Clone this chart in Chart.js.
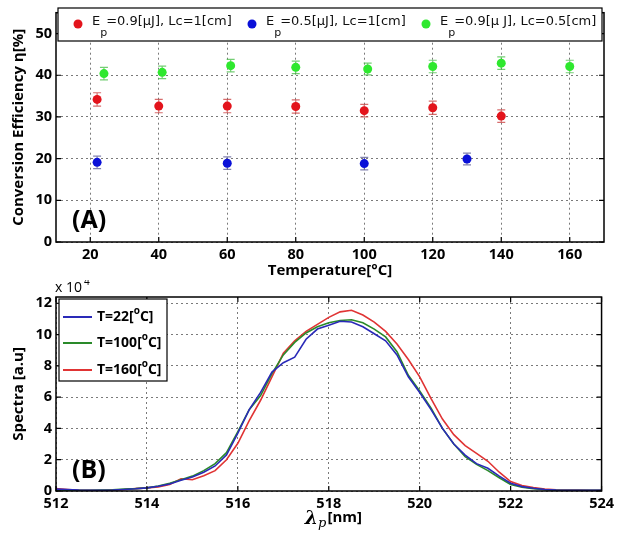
<!DOCTYPE html>
<html>
<head>
<meta charset="utf-8">
<script src="https://cdn.jsdelivr.net/npm/chart.js@4.4.0/dist/chart.umd.min.js"></script>
<style>
  html, body { margin: 0; padding: 0; background: #fff; }
  #wrap { position: relative; width: 618px; height: 537px; }
  canvas { position: absolute; left: 0; }
  #effChart { top: 0; }
  #specChart { top: 280px; }
</style>
</head>
<body>
<div id="wrap">
  <canvas id="effChart" width="618" height="280"></canvas>
  <canvas id="specChart" width="618" height="257"></canvas>
</div>
<script>
// ---- (A) conversion efficiency vs temperature ----
const tempRed = [22, 40, 60, 80, 100, 120, 140];
const effRed = [34.2, 32.6, 32.6, 32.5, 31.5, 32.2, 30.2];
const errRed = [1.6, 1.6, 1.6, 1.6, 1.5, 1.6, 1.5];

const tempBlue = [22, 60, 100, 130];
const effBlue = [19.1, 18.9, 18.8, 19.9];
const errBlue = [1.5, 1.5, 1.5, 1.4];

const tempGreen = [24, 41, 61, 80, 101, 120, 140, 160];
const effGreen = [40.4, 40.7, 42.3, 41.9, 41.5, 42.1, 42.9, 42.1];
const errGreen = [1.5, 1.5, 1.5, 1.5, 1.4, 1.5, 1.5, 1.5];

const tempTicks = [20, 40, 60, 80, 100, 120, 140, 160];
const effTicks = [0, 10, 20, 30, 40, 50];

// ---- (B) spectra (values in units of 10^4) ----
const wavelength = [512, 512.25, 512.5, 512.75, 513, 513.25, 513.5, 513.75,
  514, 514.25, 514.5, 514.75, 515, 515.25, 515.5, 515.75,
  516, 516.25, 516.5, 516.75, 517, 517.25, 517.5, 517.75,
  518, 518.25, 518.5, 518.75, 519, 519.25, 519.5, 519.75,
  520, 520.25, 520.5, 520.75, 521, 521.25, 521.5, 521.75,
  522, 522.25, 522.5, 522.75, 523, 523.25, 523.5, 523.75, 524];
const spec22 = [0.12, 0.1, 0.06, 0.05, 0.04, 0.06, 0.1, 0.14,
  0.2, 0.3, 0.45, 0.68, 0.9, 1.2, 1.6, 2.3,
  3.7, 5.2, 6.3, 7.6, 8.2, 8.55, 9.7, 10.35,
  10.6, 10.85, 10.8, 10.5, 10.05, 9.6, 8.7, 7.3,
  6.3, 5.2, 4.0, 3.0, 2.3, 1.75, 1.45, 0.95,
  0.5, 0.28, 0.18, 0.1, 0.06, 0.05, 0.05, 0.04, 0.04];
const spec100 = [0.06, 0.05, 0.04, 0.05, 0.06, 0.08, 0.12, 0.15,
  0.2, 0.32, 0.5, 0.72, 0.95, 1.3, 1.75, 2.45,
  3.8, 5.2, 6.1, 7.5, 8.7, 9.5, 10.1, 10.5,
  10.75, 10.9, 10.95, 10.75, 10.35, 9.85, 8.9, 7.4,
  6.4, 5.3, 4.0, 3.0, 2.2, 1.7, 1.3, 0.85,
  0.42, 0.25, 0.15, 0.08, 0.05, 0.05, 0.04, 0.04, 0.04];
const spec160 = [0.15, 0.1, 0.05, 0.05, 0.05, 0.07, 0.1, 0.15,
  0.2, 0.26, 0.42, 0.78, 0.72, 0.98, 1.3, 2.0,
  3.05, 4.5, 5.8, 7.3, 8.8, 9.6, 10.2, 10.65,
  11.1, 11.45, 11.55, 11.25, 10.8, 10.2, 9.4, 8.4,
  7.3, 5.9, 4.6, 3.6, 2.9, 2.4, 1.9, 1.2,
  0.6, 0.35, 0.22, 0.12, 0.08, 0.06, 0.06, 0.05, 0.05];
const wlTicks = [512, 514, 516, 518, 520, 522, 524];
const specTicks = [0, 2, 4, 6, 8, 10, 12];

Chart.defaults.font.family = "'Open Sans', sans-serif";
Chart.defaults.color = '#000';

const FONT = "'Open Sans', sans-serif";
const LEGEND_FONT = "'DejaVu Sans', sans-serif";
const toPoints = (xs, ys) => xs.map((x, i) => ({ x, y: ys[i] }));
const setTicks = (values) => (scale) => { scale.ticks = values.map((v) => ({ value: v })); };

// black box round the plot with small inward tick marks (matlab style)
const framePlugin = {
  id: 'frame',
  afterDatasetsDraw(chart) {
    const { ctx, chartArea: a, scales: { x, y } } = chart;
    ctx.save();
    ctx.strokeStyle = '#000';
    ctx.lineWidth = 1.5;
    ctx.strokeRect(a.left, a.top, a.right - a.left, a.bottom - a.top);
    ctx.lineWidth = 1.2;
    ctx.beginPath();
    x.ticks.forEach((t) => {
      const px = x.getPixelForValue(t.value);
      ctx.moveTo(px, a.bottom); ctx.lineTo(px, a.bottom - 5);
      ctx.moveTo(px, a.top); ctx.lineTo(px, a.top + 5);
    });
    y.ticks.forEach((t) => {
      const py = y.getPixelForValue(t.value);
      ctx.moveTo(a.left, py); ctx.lineTo(a.left + 5, py);
      ctx.moveTo(a.right, py); ctx.lineTo(a.right - 5, py);
    });
    ctx.stroke();
    ctx.restore();
  }
};

const errorBars = {
  id: 'errorBars',
  beforeDatasetsDraw(chart) {
    const { ctx, scales: { x, y } } = chart;
    chart.data.datasets.forEach((ds) => {
      if (!ds.errors) return;
      ctx.save();
      ctx.strokeStyle = ds.errorColor;
      ctx.lineWidth = 1.2;
      ds.data.forEach((pt, i) => {
        const px = x.getPixelForValue(pt.x);
        const top = y.getPixelForValue(pt.y + ds.errors[i]);
        const bot = y.getPixelForValue(pt.y - ds.errors[i]);
        ctx.beginPath();
        ctx.moveTo(px, top); ctx.lineTo(px, bot);
        ctx.moveTo(px - 4, top); ctx.lineTo(px + 4, top);
        ctx.moveTo(px - 4, bot); ctx.lineTo(px + 4, bot);
        ctx.stroke();
      });
      ctx.restore();
    });
  }
};

// legend inside the top panel, labels like 'E_p=...' get a subscript p
const effLegend = {
  id: 'effLegend',
  afterDraw(chart) {
    const { ctx } = chart;
    const startX = [78, 252, 426];
    ctx.save();
    ctx.fillStyle = '#fff';
    ctx.fillRect(58, 8, 544, 33);
    ctx.strokeStyle = '#000';
    ctx.lineWidth = 1.2;
    ctx.strokeRect(58, 8, 544, 33);
    ctx.textBaseline = 'middle';
    chart.data.datasets.forEach((ds, i) => {
      const x0 = startX[i];
      ctx.fillStyle = ds.backgroundColor;
      ctx.beginPath();
      ctx.arc(x0, 24, 4.5, 0, Math.PI * 2);
      ctx.fill();
      const [head, tail] = ds.label.split('_p');
      ctx.fillStyle = '#111';
      ctx.font = '13px ' + LEGEND_FONT;
      let tx = x0 + 14;
      ctx.fillText(head, tx, 22);
      tx += ctx.measureText(head).width;
      ctx.font = '11px ' + LEGEND_FONT;
      ctx.fillText('p', tx, 33);
      tx += ctx.measureText('p').width - 1;
      ctx.font = '13px ' + LEGEND_FONT;
      ctx.fillText(tail, tx, 22);
    });
    ctx.font = 'bold 25px ' + FONT;
    ctx.fillStyle = '#000';
    ctx.fillText('(A)', 72, 221);
    ctx.restore();
  }
};

const specDecor = {
  id: 'specDecor',
  afterDraw(chart) {
    const { ctx, chartArea: a } = chart;
    ctx.save();
    // legend box
    ctx.fillStyle = '#fff';
    ctx.fillRect(59, 19, 108, 82);
    ctx.strokeStyle = '#000';
    ctx.lineWidth = 1.2;
    ctx.strokeRect(59, 19, 108, 82);
    ctx.textBaseline = 'middle';
    const rowY = [37, 63, 90];
    chart.data.datasets.forEach((ds, i) => {
      const y = rowY[i];
      ctx.strokeStyle = ds.borderColor;
      ctx.lineWidth = 2;
      ctx.beginPath();
      ctx.moveTo(63, y); ctx.lineTo(92, y);
      ctx.stroke();
      const [head, tail] = ds.label.split('°');
      ctx.fillStyle = '#000';
      ctx.font = 'bold 14px ' + FONT;
      let tx = 97;
      ctx.fillText(head, tx, y);
      tx += ctx.measureText(head).width;
      ctx.font = 'bold 10px ' + FONT;
      ctx.fillText('o', tx, y - 6);
      tx += ctx.measureText('o').width;
      ctx.font = 'bold 14px ' + FONT;
      ctx.fillText(tail, tx, y);
    });
    // x 10^4 multiplier
    ctx.font = '14px ' + FONT;
    ctx.fillText('x 10', 55, 8);
    ctx.font = '10px ' + FONT;
    ctx.fillText('4', 84, 2);
    // panel label
    ctx.font = 'bold 25px ' + FONT;
    ctx.fillText('(B)', 72, 191);
    // x title: lambda_p [nm]
    const cx = (a.left + a.right) / 2;
    ctx.font = 'italic bold 19px "DejaVu Serif", serif';
    let tx = cx - 24;
    ctx.fillText('λ', tx, 239);
    tx += ctx.measureText('λ').width;
    ctx.font = 'italic 13px "DejaVu Serif", serif';
    ctx.fillText('p', tx, 244);
    tx += ctx.measureText('p').width + 1;
    ctx.font = 'bold 15px ' + FONT;
    ctx.fillText('[nm]', tx, 238);
    ctx.restore();
  }
};

const tickFont = { size: 14.5, weight: 'bold' };
const titleFont = { size: 15, weight: 'bold' };
const gridOpts = { color: '#7a7a7a', lineWidth: 1, drawTicks: false };
const borderOpts = { display: false, dash: [2, 3] };

new Chart(document.getElementById('effChart'), {
  type: 'scatter',
  data: {
    datasets: [
      {
        label: 'E_p=0.9[μJ], Lc=1[cm]',
        data: toPoints(tempRed, effRed),
        errors: errRed,
        backgroundColor: '#e3141c',
        errorColor: 'rgba(200, 60, 60, 0.75)',
        pointRadius: 4.5,
        borderWidth: 0
      },
      {
        label: 'E_p=0.5[μJ], Lc=1[cm]',
        data: toPoints(tempBlue, effBlue),
        errors: errBlue,
        backgroundColor: '#0a10d8',
        errorColor: 'rgba(90, 90, 150, 0.75)',
        pointRadius: 4.5,
        borderWidth: 0
      },
      {
        label: 'E_p=0.9[μ J], Lc=0.5[cm]',
        data: toPoints(tempGreen, effGreen),
        errors: errGreen,
        backgroundColor: '#2ee82e',
        errorColor: 'rgba(70, 190, 70, 0.75)',
        pointRadius: 4.5,
        borderWidth: 0
      }
    ]
  },
  options: {
    responsive: false,
    animation: false,
    layout: { padding: { top: 5, right: 14, left: 0, bottom: 0 } },
    plugins: { legend: { display: false }, tooltip: { enabled: false } },
    scales: {
      x: {
        type: 'linear',
        min: 10,
        max: 170,
        afterBuildTicks: setTicks(tempTicks),
        afterFit: (s) => { s.height = 38; },
        grid: gridOpts,
        border: borderOpts,
        ticks: { font: tickFont, padding: 4 },
        title: {
          display: true,
          text: 'Temperature[°C]',
          font: titleFont,
          padding: { top: 0, bottom: 0 }
        }
      },
      y: {
        min: 0,
        max: 55,
        afterBuildTicks: setTicks(effTicks),
        afterFit: (s) => { s.width = 56; },
        grid: gridOpts,
        border: borderOpts,
        ticks: { font: tickFont, padding: 4 },
        title: {
          display: true,
          text: 'Conversion Efficiency η[%]',
          font: titleFont,
          padding: { top: 10, bottom: 0 }
        }
      }
    }
  },
  plugins: [errorBars, framePlugin, effLegend]
});

new Chart(document.getElementById('specChart'), {
  type: 'line',
  data: {
    datasets: [
      { label: 'T=22[°C]', data: toPoints(wavelength, spec22), borderColor: '#2a2ab8' },
      { label: 'T=100[°C]', data: toPoints(wavelength, spec100), borderColor: '#2a8a2a' },
      { label: 'T=160[°C]', data: toPoints(wavelength, spec160), borderColor: '#e03434' }
    ]
  },
  options: {
    responsive: false,
    animation: false,
    datasets: { line: { pointRadius: 0, borderWidth: 1.6, tension: 0, fill: false } },
    layout: { padding: { top: 17, right: 15, left: 0, bottom: 0 } },
    plugins: { legend: { display: false }, tooltip: { enabled: false } },
    scales: {
      x: {
        type: 'linear',
        min: 512,
        max: 524,
        afterBuildTicks: setTicks(wlTicks),
        afterFit: (s) => { s.height = 46; },
        grid: gridOpts,
        border: borderOpts,
        ticks: { font: tickFont, padding: 4 }
      },
      y: {
        min: 0,
        max: 12.4,
        afterBuildTicks: setTicks(specTicks),
        afterFit: (s) => { s.width = 56; },
        grid: gridOpts,
        border: borderOpts,
        ticks: { font: tickFont, padding: 4 },
        title: {
          display: true,
          text: 'Spectra [a.u]',
          font: titleFont,
          padding: { top: 10, bottom: 0 }
        }
      }
    }
  },
  plugins: [framePlugin, specDecor]
});
</script>
</body>
</html>
